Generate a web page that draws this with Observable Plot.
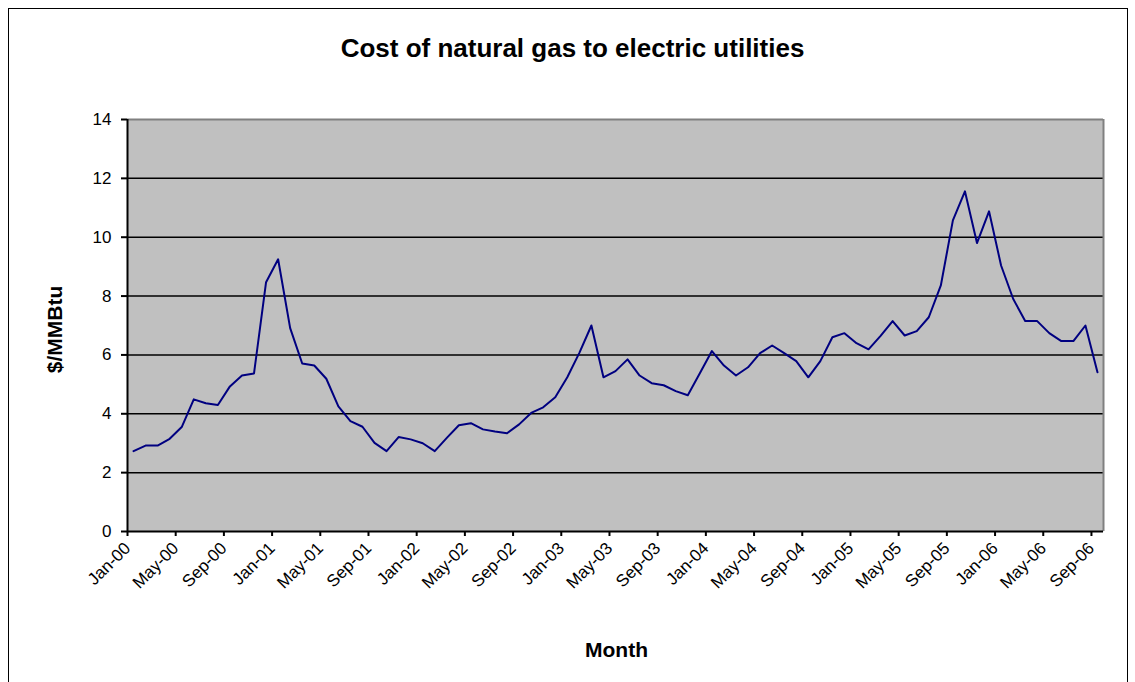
<!DOCTYPE html>
<html><head><meta charset="utf-8">
<script src="https://cdn.jsdelivr.net/npm/d3@7"></script>
<script src="https://cdn.jsdelivr.net/npm/@observablehq/plot@0.6"></script>
<style>
body{margin:0;background:#fff;}
#wrap{position:relative;width:1135px;height:682px;overflow:hidden;}
#border{position:absolute;left:8px;top:8px;width:1118px;height:700px;border:1px solid #000;pointer-events:none;}
</style></head><body><div id="wrap"><div id="border"></div></div>
<script>
const chartTitle = "Cost of natural gas to electric utilities";
const yLabel = "$/MMBtu";
const xLabel = "Month";
// x-axis tick labels, one every 4 months
const tickLabels = ["Jan-00","May-00","Sep-00","Jan-01","May-01","Sep-01","Jan-02","May-02","Sep-02",
  "Jan-03","May-03","Sep-03","Jan-04","May-04","Sep-04","Jan-05","May-05","Sep-05","Jan-06","May-06","Sep-06"];
const yTicks = [0,2,4,6,8,10,12,14];
// monthly cost, Jan-00 .. Sep-06 ($/MMBtu)
const costs = [
  2.73,2.92,2.92,3.15,3.55,4.49,4.36,4.30,4.93,5.30,5.37,8.47,
  9.25,6.91,5.71,5.64,5.19,4.25,3.75,3.56,3.01,2.73,3.21,3.13,
  3.00,2.73,3.18,3.61,3.68,3.47,3.40,3.34,3.64,4.03,4.22,4.56,
  5.24,6.07,7.00,5.24,5.45,5.85,5.30,5.04,4.97,4.77,4.63,5.38,
  6.13,5.64,5.30,5.58,6.06,6.32,6.06,5.79,5.24,5.79,6.60,6.74,
  6.40,6.19,6.65,7.15,6.66,6.81,7.28,8.36,10.57,11.56,9.80,10.88,
  9.04,7.91,7.15,7.15,6.74,6.47,6.47,7.00,5.41
];
const data = costs.map((v, i) => ({pos: i + 0.5, v}));
const tickPos = tickLabels.map((_, k) => 4 * k);
const font = "'Liberation Sans', Arial, sans-serif";

const chart = Plot.plot({
  width: 1135, height: 682,
  marginLeft: 127, marginRight: 32, marginTop: 119, marginBottom: 151,
  style: {fontFamily: font, fontSize: "16px", background: "transparent", color: "#000", overflow: "visible"},
  x: {domain: [0, costs.length]},
  y: {domain: [0, 14]},
  marks: [
    Plot.frame({fill: "#c0c0c0", stroke: null}),
    Plot.ruleY(yTicks.filter(t => t > 0 && t < 14), {stroke: "#000", strokeWidth: 1.5}),
    Plot.ruleY([14], {stroke: "#808080", strokeWidth: 2}),
    Plot.ruleX([costs.length], {stroke: "#808080", strokeWidth: 2}),
    Plot.lineY(data, {x: "pos", y: "v", stroke: "#000080", strokeWidth: 2}),
    Plot.ruleY([0], {stroke: "#000", strokeWidth: 2}),
    Plot.ruleX([0], {stroke: "#000", strokeWidth: 2}),
    Plot.axisY({ticks: yTicks, tickSize: 6, tickPadding: 10, label: null, strokeWidth: 2, fontSize: 17}),
    Plot.axisX({ticks: tickPos, tickFormat: d => tickLabels[d / 4], tickRotate: -45, tickSize: 5, tickPadding: 9, label: null, strokeWidth: 2, fontSize: 17}),
    Plot.text([chartTitle], {frameAnchor: "top", lineAnchor: "middle", dx: -43, dy: -71, fontWeight: "bold", fontSize: 26}),
    Plot.text([yLabel], {frameAnchor: "left", textAnchor: "middle", lineAnchor: "middle", dx: -72, dy: 4, rotate: -90, fontWeight: "bold", fontSize: 21}),
    Plot.text([xLabel], {frameAnchor: "bottom", lineAnchor: "middle", dx: 1, dy: 119, fontWeight: "bold", fontSize: 21})
  ]
});
document.getElementById("wrap").appendChild(chart);
</script>
</body></html>
